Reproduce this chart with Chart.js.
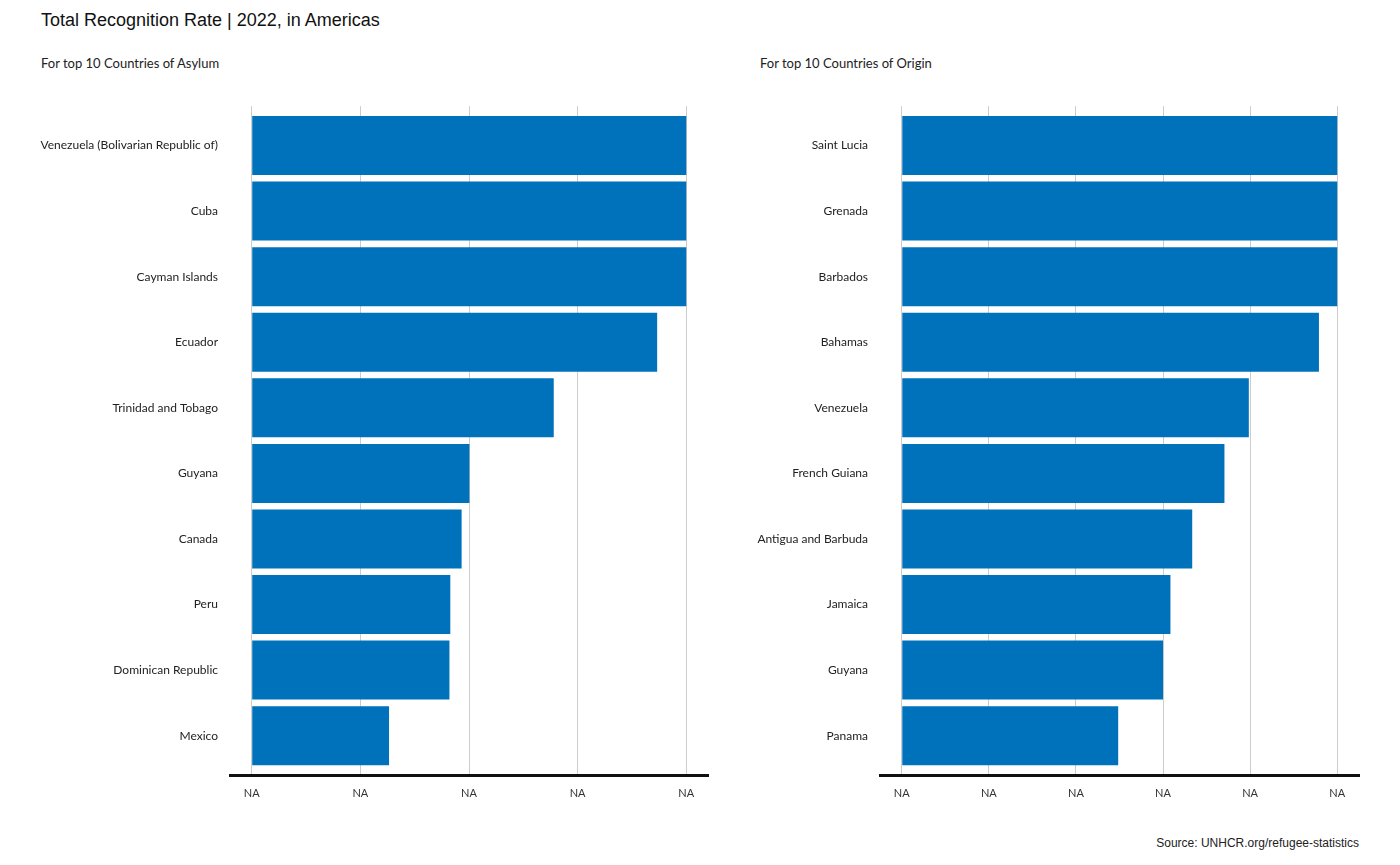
<!DOCTYPE html>
<html>
<head>
<meta charset="utf-8">
<script src="https://cdn.jsdelivr.net/npm/chart.js@4.4.1/dist/chart.umd.min.js"></script>
<style>
  body { margin: 0; background: #fff; width: 1400px; height: 865px; position: relative; overflow: hidden; }
  .txt { position: absolute; white-space: nowrap; color: #222; }
  #title { left: 41px; top: 10px; font: 18px "Liberation Sans", Arial, sans-serif; color: #111; }
  .sub { top: 55px; font: 13px Lato, sans-serif; }
  #source { right: 41px; top: 836px; font: 12px "Liberation Sans", Arial, sans-serif; }
  .box { position: absolute; top: 87px; height: 733px; }
</style>
</head>
<body>
<div id="title" class="txt">Total Recognition Rate | 2022, in Americas</div>
<div class="txt sub" style="left:41px">For top 10 Countries of Asylum</div>
<div class="txt sub" style="left:760px">For top 10 Countries of Origin</div>
<div id="source" class="txt">Source: UNHCR.org/refugee-statistics</div>
<div class="box" style="left:0; width:720px"><canvas id="asylum_Chart"></canvas></div>
<div class="box" style="left:720px; width:680px"><canvas id="origin_Chart"></canvas></div>
<script>
const asylumCountries = ["Venezuela (Bolivarian Republic of)", "Cuba", "Cayman Islands", "Ecuador",
  "Trinidad and Tobago", "Guyana", "Canada", "Peru", "Dominican Republic", "Mexico"];
const asylumRates = [1.0, 1.0, 1.0, 0.933, 0.695, 0.501, 0.483, 0.457, 0.455, 0.316];
const asylumTicks = [0, 0.25, 0.5, 0.75, 1];

const originCountries = ["Saint Lucia", "Grenada", "Barbados", "Bahamas", "Venezuela",
  "French Guiana", "Antigua and Barbuda", "Jamaica", "Guyana", "Panama"];
const originRates = [1.0, 1.0, 1.0, 0.958, 0.797, 0.741, 0.667, 0.617, 0.600, 0.497];
const originTicks = [0, 0.2, 0.4, 0.6, 0.8, 1];

const tickLabel = "NA";

function makeChart(id, countries, rates, xTicks, axisWidth, padRight) {
    let points = [];
    for (let i = 0; i < rates.length; i++) {
        points.push({x: rates[i], y: i});
    }
    return new Chart(id, {
        type: "bar",
        data: {
            datasets: [{
                data: points,
                backgroundColor: "#0072BC",
                borderWidth: 0,
                barPercentage: 0.9,
                categoryPercentage: 1
            }]
        },
        options: {
            indexAxis: "y",
            responsive: true,
            maintainAspectRatio: false,
            animation: false,
            layout: {padding: {top: 12, right: padRight, bottom: 0, left: 0}},
            plugins: {legend: {display: false}, tooltip: {enabled: false}},
            scales: {
                x: {
                    type: "linear",
                    min: -0.05,
                    max: 1.05,
                    afterBuildTicks: s => { s.ticks = xTicks.map(v => ({value: v})); },
                    afterFit: s => { s.height = 45; },
                    grid: {color: "#cccccc", lineWidth: 1, drawTicks: false},
                    border: {display: true, color: "#111111", width: 3},
                    ticks: {
                        padding: 12,
                        color: "#333",
                        font: {family: "Lato", size: 11},
                        callback: () => tickLabel
                    }
                },
                y: {
                    type: "linear",
                    reverse: true,
                    offset: false,
                    min: -0.6,
                    max: 9.6,
                    afterBuildTicks: s => { s.ticks = countries.map((c, i) => ({value: i})); },
                    afterFit: s => { s.width = axisWidth; },
                    grid: {display: false, drawTicks: false, offset: false},
                    border: {display: false},
                    ticks: {
                        padding: 12,
                        color: "#222",
                        font: {family: "Lato", size: 12},
                        callback: v => countries[v]
                    }
                }
            }
        }
    });
}

makeChart("asylum_Chart", asylumCountries, asylumRates, asylumTicks, 230, 12);
makeChart("origin_Chart", originCountries, originRates, originTicks, 160, 41);
</script>
</body>
</html>
